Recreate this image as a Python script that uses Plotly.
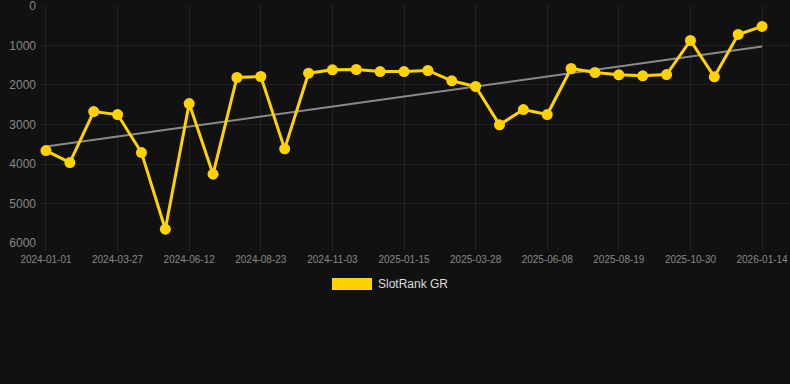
import plotly.graph_objects as go

dates = [
    "2024-01-01", "2024-01-29", "2024-02-27", "2024-03-27", "2024-04-21", "2024-05-17",
    "2024-06-12", "2024-07-06", "2024-07-30", "2024-08-23", "2024-09-16", "2024-10-10",
    "2024-11-03", "2024-11-27", "2024-12-22", "2025-01-15", "2025-02-08", "2025-03-04",
    "2025-03-28", "2025-04-21", "2025-05-15", "2025-06-08", "2025-07-02", "2025-07-26",
    "2025-08-19", "2025-09-12", "2025-10-06", "2025-10-30", "2025-11-24", "2025-12-19",
    "2026-01-14",
]
ranks = [
    3659, 3962, 2672, 2748, 3709, 5646, 2470, 4256, 1812, 1787, 3616, 1703,
    1618, 1610, 1661, 1661, 1635, 1896, 2040, 3009, 2622, 2748, 1585, 1686,
    1745, 1770, 1737, 877, 1795, 725, 522,
]
trend_dates = [dates[0], dates[-1]]
trend_values = [3557, 1028]
tick_labels = dates[::3]
y_ticks = [0, 1000, 2000, 3000, 4000, 5000, 6000]
series_name = "SlotRank GR"

gold = "#FFD200"
fig = go.Figure()
fig.add_trace(go.Scatter(
    x=dates, y=ranks, mode="lines+markers", name=series_name,
    line=dict(color=gold, width=3), marker=dict(color=gold, size=11),
    showlegend=False,
))
fig.add_trace(go.Scatter(
    x=trend_dates, y=trend_values, mode="lines",
    line=dict(color="#8a8a8a", width=2), showlegend=False, hoverinfo="skip",
))
# keep the rank line above the trend line
fig.data = (fig.data[1], fig.data[0])

L, T, W, H = 40, 5, 750, 239
def px(x):
    return (x - L) / W
def py(y):
    return (T + H - y) / H

fig.update_layout(
    width=790, height=384,
    paper_bgcolor="#111111", plot_bgcolor="#111111",
    margin=dict(l=L, r=0, t=T, b=384 - T - H),
    font=dict(family="Arial, Liberation Sans, sans-serif", color="#888888"),
    xaxis=dict(
        type="category", categoryorder="array", categoryarray=dates,
        range=[-0.25, 31.17],
        tickmode="array", tickvals=tick_labels, ticktext=tick_labels,
        showgrid=True, gridcolor="#222222", gridwidth=1,
        zeroline=False, showline=False,
        ticks="outside", ticklen=6, tickcolor="#222222",
        tickfont=dict(size=10, color="#888888"),
    ),
    yaxis=dict(
        autorange=False, range=[6020, -20],
        tickmode="array", tickvals=y_ticks,
        showgrid=True, gridcolor="#222222", gridwidth=1,
        zeroline=False, showline=False,
        ticks="", ticklabelstandoff=3, ticklabeloverflow="allow",
        tickfont=dict(size=12, color="#888888"),
    ),
    showlegend=False,
    shapes=[dict(
        type="rect", xref="paper", yref="paper",
        x0=px(332), x1=px(372), y0=py(290), y1=py(278),
        fillcolor=gold, line=dict(width=0),
    )],
    annotations=[dict(
        xref="paper", yref="paper", x=px(376), y=py(284),
        xanchor="left", yanchor="middle", showarrow=False,
        text=series_name, font=dict(size=12, color="#dddddd"),
    )],
)

fig.write_html(
    "out.html",
    config={"displayModeBar": False},
    post_script="document.body.style.margin='0';document.body.style.background='#111111';",
)
